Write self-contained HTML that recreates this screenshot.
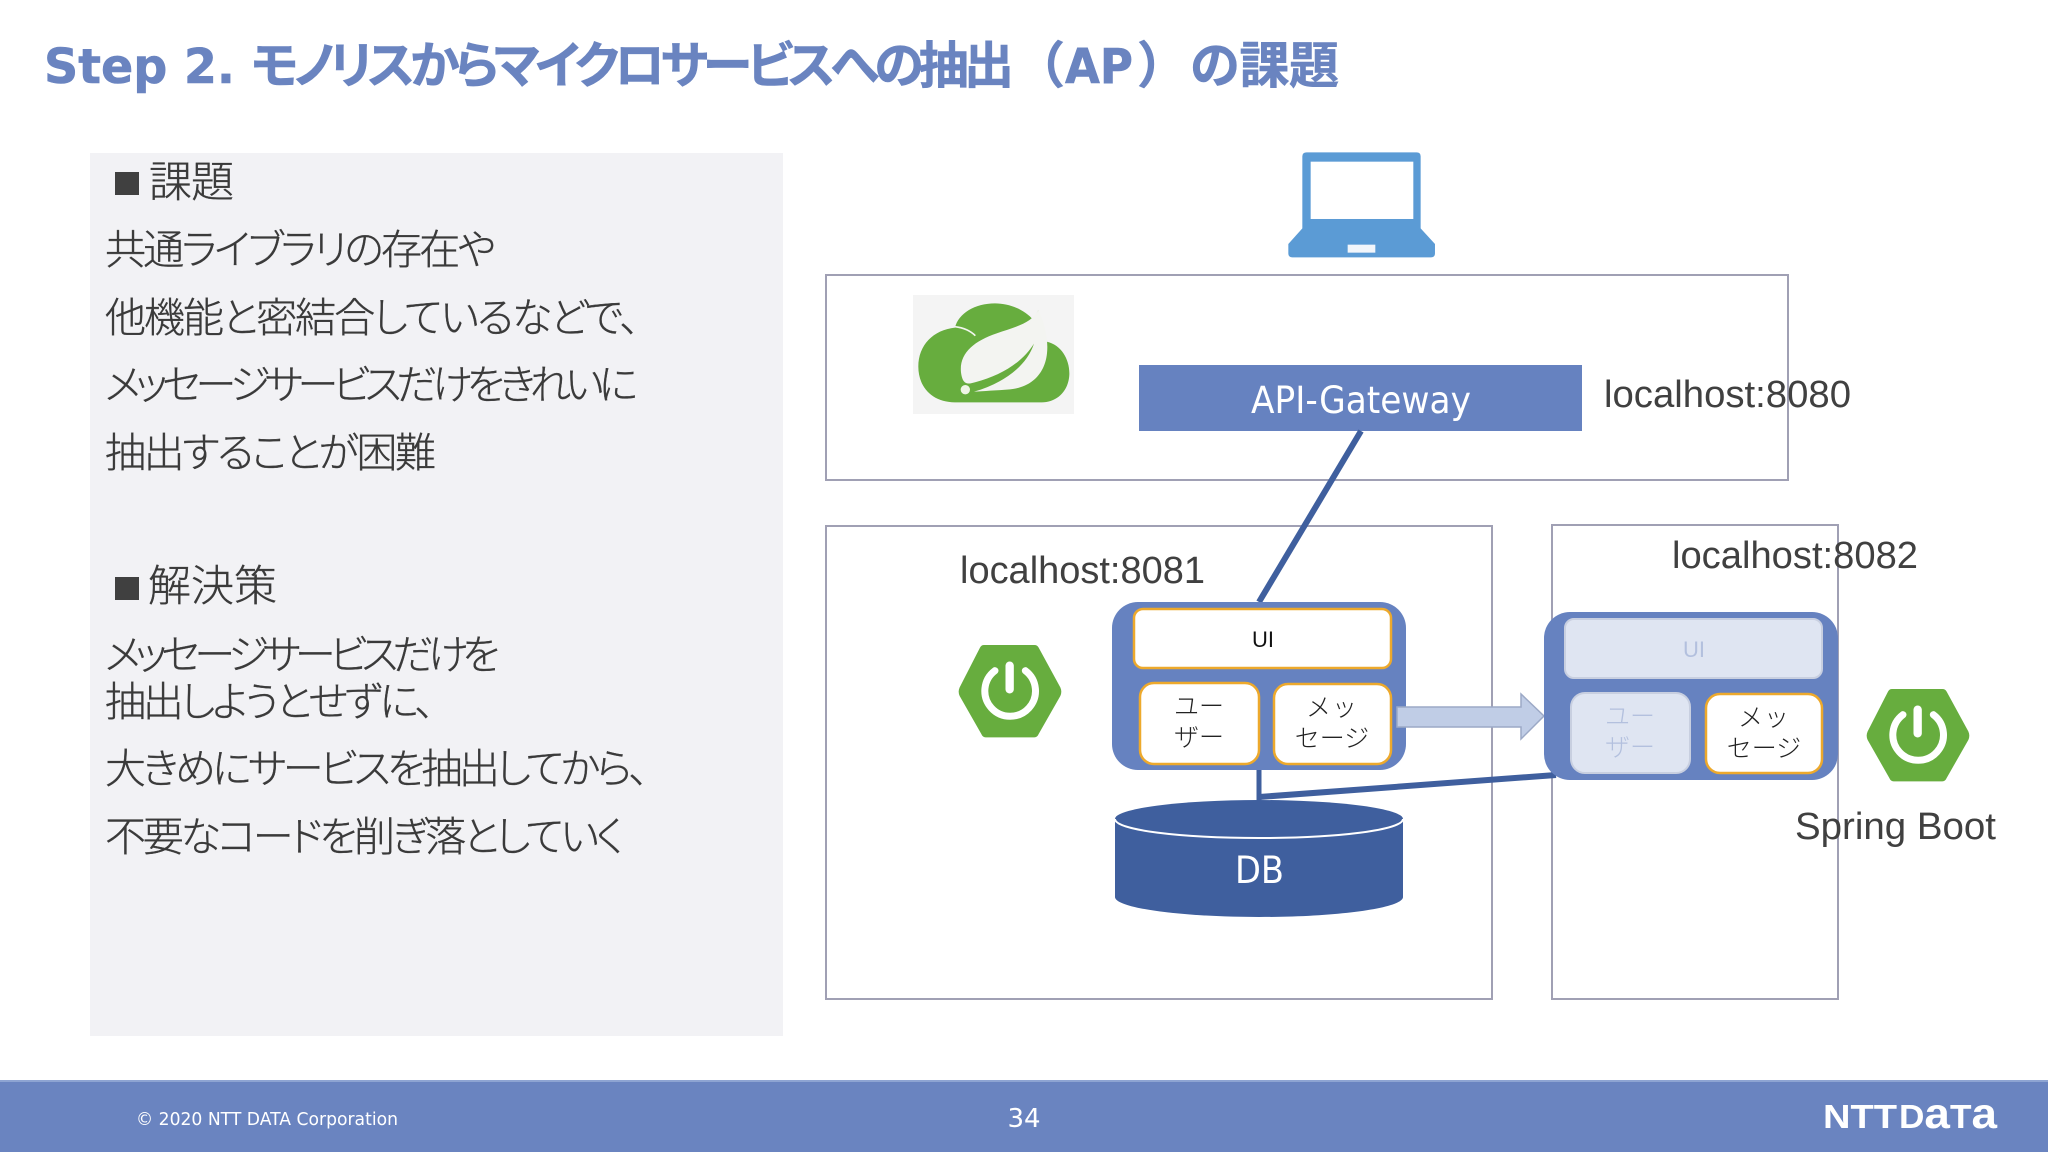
<!DOCTYPE html>
<html lang="ja">
<head>
<meta charset="utf-8">
<title>Step 2</title>
<style>
html,body{margin:0;padding:0;background:#fff;width:2048px;height:1152px;overflow:hidden}
svg{display:block}
text{font-family:"Liberation Sans","Noto Sans CJK JP",sans-serif}
.jp{font-family:"Noto Sans CJK JP","Liberation Sans",sans-serif;font-feature-settings:"palt";font-weight:300}
.body{font-size:41px;fill:#3a3a3a;stroke:#3a3a3a;stroke-width:.35px}
.head{font-size:43px}
.lbl{font-size:38px;fill:#404040}
.small{font-family:"Noto Sans CJK JP","Liberation Sans",sans-serif;font-size:25px;font-weight:300}
.ttl{font-size:50px;font-weight:700;fill:#6a84c0;stroke:#6a84c0;stroke-width:.6px;font-family:"Noto Sans CJK JP","Liberation Sans",sans-serif}
</style>
</head>
<body>
<svg width="2048" height="1152" viewBox="0 0 2048 1152" xmlns="http://www.w3.org/2000/svg">
<rect width="2048" height="1152" fill="#fff"/>

<!-- title -->
<text class="ttl" x="44" y="83" style="font-family:'DejaVu Sans','Liberation Sans',sans-serif;font-size:48px" textLength="191" lengthAdjust="spacingAndGlyphs">Step 2.</text>
<text class="ttl" x="251" y="83" style="font-feature-settings:'palt'" textLength="763">モノリスからマイクロサービスへの抽出</text>
<text class="ttl" x="1015" y="83">（</text>
<text class="ttl" x="1065" y="83" style="font-family:'DejaVu Sans','Liberation Sans',sans-serif;font-size:48px" textLength="68" lengthAdjust="spacingAndGlyphs">AP</text>
<text class="ttl" x="1137" y="83">）</text>
<text class="ttl" x="1190" y="83" textLength="149">の課題</text>

<!-- left panel -->
<rect x="90" y="153" width="693" height="883" fill="#f2f2f5"/>
<rect x="115" y="172" width="24" height="23" fill="#404040"/>
<text class="jp body head" x="149" y="197" textLength="85">課題</text>
<text class="jp body" x="105" y="264" textLength="391">共通ライブラリの存在や</text>
<text class="jp body" x="105" y="332" textLength="535">他機能と密結合しているなどで、</text>
<text class="jp body" x="105" y="399" textLength="533">メッセージサービスだけをきれいに</text>
<text class="jp body" x="105" y="467" textLength="331">抽出することが困難</text>
<rect x="115" y="577" width="24" height="23" fill="#404040"/>
<text class="jp body head" x="148" y="601" textLength="129">解決策</text>
<text class="jp body" x="105" y="669" textLength="395">メッセージサービスだけを</text>
<text class="jp body" x="105" y="716" textLength="330">抽出しようとせずに、</text>
<text class="jp body" x="105" y="783" textLength="544">大きめにサービスを抽出してから、</text>
<text class="jp body" x="105" y="851" textLength="519">不要なコードを削ぎ落としていく</text>

<!-- laptop -->
<g transform="translate(1270,140) scale(.3333)">
<path d="M110 37H440Q452 37 452 49V265L495 312V340Q495 352 483 352H67Q55 352 55 340V312L97 265V49Q97 37 110 37Z" fill="#5b9bd5"/>
<rect x="122" y="65" width="308" height="172" fill="#fff"/>
<rect x="233" y="314" width="83" height="24" fill="#f2f6fb"/>
</g>

<!-- containers -->
<rect x="826" y="275" width="962" height="205" fill="#fff" stroke="#a0a0b4" stroke-width="2"/>
<rect x="826" y="526" width="666" height="473" fill="#fff" stroke="#a0a0b4" stroke-width="2"/>
<rect x="1552" y="525" width="286" height="474" fill="none" stroke="#a0a0b4" stroke-width="2"/>

<!-- spring logo -->
<rect x="913" y="295" width="161" height="119" fill="#f4f4f4"/>
<g transform="translate(900,285) scale(.3333)">
<path d="M165 352C95 352 55 305 55 245C55 180 100 135 165 128C175 85 225 55 285 55C330 55 375 75 400 105L415 75L440 170C485 180 510 225 508 270C505 320 470 352 425 352Z" fill="#67ad3e"/>
<path d="M165 125C190 128 212 138 226 152" fill="none" stroke="#f2f6ee" stroke-width="5"/>
<path d="M415 75C432 110 446 160 441 205C435 265 395 307 330 313C290 316 250 318 222 320C300 298 378 250 402 176C362 240 290 277 212 295C193 299 186 285 183 262C177 205 222 168 290 145C345 126 395 115 415 75Z" fill="#f3f4f1"/>
<circle cx="196" cy="314" r="14" fill="#eef5e5"/>
</g>

<!-- gateway -->
<rect x="1139" y="365" width="443" height="66" fill="#6682c0"/>
<text x="1251" y="413" font-size="37" fill="#fff" style="font-family:'DejaVu Sans','Liberation Sans',sans-serif" textLength="220" lengthAdjust="spacingAndGlyphs">API-Gateway</text>
<text class="lbl" x="1604" y="407" textLength="247" lengthAdjust="spacingAndGlyphs">localhost:8080</text>

<!-- connectors -->
<line x1="1361" y1="431" x2="1259" y2="602" stroke="#3f5f9e" stroke-width="6"/>
<line x1="1259" y1="770" x2="1259" y2="800" stroke="#3f5f9e" stroke-width="5"/>
<line x1="1259" y1="797" x2="1556" y2="775" stroke="#3f5f9e" stroke-width="6"/>

<text class="lbl" x="960" y="583" textLength="245" lengthAdjust="spacingAndGlyphs">localhost:8081</text>
<text class="lbl" x="1672" y="568" textLength="246" lengthAdjust="spacingAndGlyphs">localhost:8082</text>

<!-- spring boot hex 1 -->
<g transform="translate(940,630) scale(.3333)">
<path d="M132 45H283Q292 45 296 53L361 172Q367 185 361 198L296 312Q292 322 283 322H137Q128 322 124 312L59 198Q53 185 59 172L120 53Q124 45 132 45Z" fill="#67ad3e"/>
<path d="M165 122A76 76 0 1 0 256 122" fill="none" stroke="#fff" stroke-width="21" stroke-linecap="round"/>
<line x1="209" y1="107" x2="209" y2="178" stroke="#fff" stroke-width="25" stroke-linecap="round"/>
</g>
<!-- spring boot hex 2 -->
<g transform="translate(1848,674) scale(.3333)">
<path d="M132 45H283Q292 45 296 53L361 172Q367 185 361 198L296 312Q292 322 283 322H137Q128 322 124 312L59 198Q53 185 59 172L120 53Q124 45 132 45Z" fill="#67ad3e"/>
<path d="M165 122A76 76 0 1 0 256 122" fill="none" stroke="#fff" stroke-width="21" stroke-linecap="round"/>
<line x1="209" y1="107" x2="209" y2="178" stroke="#fff" stroke-width="25" stroke-linecap="round"/>
</g>

<!-- service 1 -->
<rect x="1112" y="602" width="294" height="168" rx="26" fill="#6682c0"/>
<rect x="1134" y="609" width="257" height="59" rx="9" fill="#fff" stroke="#eda92c" stroke-width="2.5"/>
<text x="1263" y="647" text-anchor="middle" font-size="22" fill="#111">UI</text>
<rect x="1140" y="683" width="119" height="81" rx="14" fill="#fff" stroke="#eda92c" stroke-width="2.5"/>
<text class="small" x="1199" y="715" text-anchor="middle" fill="#222">ユー</text>
<text class="small" x="1199" y="746" text-anchor="middle" fill="#222">ザー</text>
<rect x="1274" y="684" width="117" height="80" rx="14" fill="#fff" stroke="#eda92c" stroke-width="2.5"/>
<text class="small" x="1332" y="716" text-anchor="middle" fill="#222" letter-spacing="1">メッ</text>
<text class="small" x="1332" y="747" text-anchor="middle" fill="#222">セージ</text>

<!-- arrow -->
<path d="M1397 707H1521V694L1544 716L1521 739V727H1397Z" fill="#c0cde6" stroke="#9ca9c6" stroke-width="1.5"/>

<!-- service 2 -->
<rect x="1544" y="612" width="294" height="168" rx="26" fill="#6682c0"/>
<rect x="1565" y="619" width="257" height="59" rx="9" fill="#dfe5f2" stroke="#c8cfe0" stroke-width="2"/>
<text x="1694" y="657" text-anchor="middle" font-size="22" fill="#b3c0de">UI</text>
<rect x="1571" y="693" width="119" height="80" rx="14" fill="#dfe5f2" stroke="#c8cfe0" stroke-width="2"/>
<text class="small" x="1630" y="725" text-anchor="middle" fill="#b3c0de">ユー</text>
<text class="small" x="1630" y="756" text-anchor="middle" fill="#b3c0de">ザー</text>
<rect x="1706" y="694" width="116" height="79" rx="14" fill="#fff" stroke="#eda92c" stroke-width="2.5"/>
<text class="small" x="1764" y="726" text-anchor="middle" fill="#222" letter-spacing="1">メッ</text>
<text class="small" x="1764" y="757" text-anchor="middle" fill="#222">セージ</text>

<!-- DB -->
<path d="M1115 819V897C1115 908 1180 917 1259 917C1338 917 1403 908 1403 897V819Z" fill="#3f5f9e"/>
<ellipse cx="1259" cy="819" rx="144" ry="19" fill="#3f5f9e"/>
<path d="M1115 819C1115 830 1180 838 1259 838C1338 838 1403 830 1403 819" fill="none" stroke="#fff" stroke-width="2"/>
<text x="1235" y="883" font-size="37" fill="#fff" style="font-family:'DejaVu Sans','Liberation Sans',sans-serif" textLength="49" lengthAdjust="spacingAndGlyphs">DB</text>

<text class="lbl" x="1795" y="839" textLength="201" lengthAdjust="spacingAndGlyphs">Spring Boot</text>

<!-- footer -->
<rect x="0" y="1080" width="2048" height="72" fill="#6a84c0"/>
<rect x="0" y="1080" width="2048" height="2" fill="#8ea4d2"/>
<text x="136" y="1125" font-size="18" fill="#fff" style="font-family:'DejaVu Sans','Liberation Sans',sans-serif" textLength="262" lengthAdjust="spacingAndGlyphs">© 2020 NTT DATA Corporation</text>
<text x="1024" y="1127" text-anchor="middle" font-size="26" fill="#fff" style="font-family:'DejaVu Sans','Liberation Sans',sans-serif">34</text>
<text x="1823" y="1128" font-size="33" font-weight="700" fill="#fff" textLength="74" lengthAdjust="spacingAndGlyphs">NTT</text>
<text x="1899" y="1128" font-size="33" font-weight="700" fill="#fff" textLength="98" lengthAdjust="spacingAndGlyphs">D<tspan font-size="43">a</tspan>T<tspan font-size="43">a</tspan></text>
</svg>
</body>
</html>
